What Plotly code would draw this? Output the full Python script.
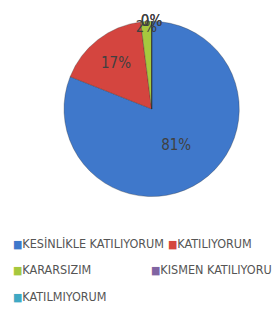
import plotly.graph_objects as go

labels = ["KESİNLİKLE KATILIYORUM", "KATILIYORUM", "KARARSIZIM", "KISMEN KATILIYORUM", "KATILMIYORUM"]
values = [81, 17, 2, 0, 0]
colors = ["#3F78CB", "#D4453F", "#A6C83E", "#8064A2", "#3FA9C4"]

FONT = "DejaVu Sans Condensed, Liberation Sans Narrow, Arial Narrow, sans-serif"

fig = go.Figure()
fig.add_trace(go.Pie(
    labels=labels, values=values, sort=False, direction="clockwise", rotation=0,
    marker=dict(colors=colors, line=dict(color="rgba(40,40,40,0.5)", width=0.6)),
    texttemplate="%{percent:.0%}", textposition="inside",
    insidetextorientation="horizontal",
    textfont=dict(family=FONT, size=15, color="#404040"),
    showlegend=False, hoverinfo="label+percent",
    domain=dict(x=[0.200, 0.826], y=[0.410, 0.965]),
))

# legend entries as text, laid out like the original (3 rows)
legend_pos = [(3, 235), (158, 235), (3, 261), (141, 261), (3, 288)]
for (lx, ly), lab, col in zip(legend_pos, labels, colors):
    fig.add_annotation(
        x=lx / 280, y=1 - ly / 323, xref="paper", yref="paper",
        xanchor="left", yanchor="middle", showarrow=False,
        text=f"<span style='color:{col};font-size:11px'>■</span>{lab}",
        font=dict(family=FONT, size=12.5, color="#555555"),
    )

fig.update_layout(
    width=280, height=323, margin=dict(l=0, r=0, t=0, b=0),
    paper_bgcolor="white", plot_bgcolor="white",
    uniformtext=dict(minsize=15, mode="show"),
)
fig.write_html("out.html")
